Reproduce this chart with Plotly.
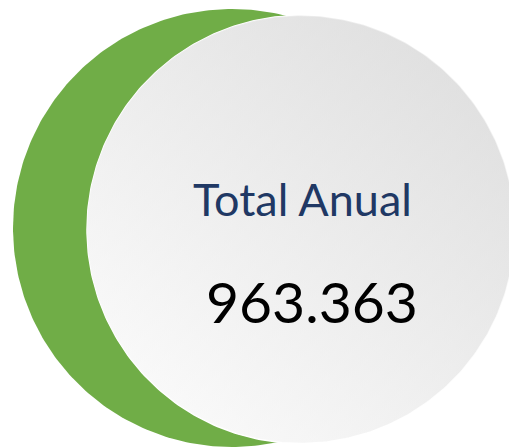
import numpy as np
import plotly.graph_objects as go

# data
label = "Total Anual"
total = 963363

# geometry of the two discs (pixel space, y down)
green_c, green_r = (232, 228), 219
disc_c, disc_r = (301, 229.5), 214

t = np.linspace(0, 2 * np.pi, 361)

def circle(c, r):
    return c[0] + r * np.cos(t), c[1] + r * np.sin(t)

fig = go.Figure()

gx, gy = circle(green_c, green_r)
fig.add_trace(go.Scatter(x=gx, y=gy, fill="toself", fillcolor="#70AD47",
                         mode="lines", line=dict(width=0), hoverinfo="skip"))

wx, wy = circle(disc_c, disc_r)
# horizontal part of the diagonal gradient
fig.add_trace(go.Scatter(x=wx, y=wy, fill="toself", mode="lines",
                         line=dict(color="white", width=1.5), hoverinfo="skip",
                         fillgradient=dict(type="horizontal",
                                           colorscale=[[0, "#fcfcfc"], [1, "#d9d9d9"]])))
# vertical overlay: lighter toward the bottom
fig.add_trace(go.Scatter(x=wx, y=wy, fill="toself", mode="lines",
                         line=dict(width=0), hoverinfo="skip",
                         fillgradient=dict(type="vertical",
                                           colorscale=[[0, "rgba(255,255,255,0.55)"],
                                                       [1, "rgba(222,222,222,0.55)"]])))

fig.add_annotation(x=302, y=199, text=label, showarrow=False,
                   font=dict(family="Lato", size=45, color="#203864"))
fig.add_annotation(x=312, y=301, text=f"{total:,}".replace(",", "."), showarrow=False,
                   font=dict(family="Lato", size=57, color="black"))

fig.update_layout(width=509, height=448, margin=dict(l=0, r=0, t=0, b=0),
                  paper_bgcolor="white", plot_bgcolor="white", showlegend=False,
                  xaxis=dict(range=[0, 509], visible=False, fixedrange=True),
                  yaxis=dict(range=[448, 0], visible=False, fixedrange=True))

fig.write_html("out.html", config={"displayModeBar": False},
               post_script="document.body.style.margin='0';document.body.style.overflow='hidden';")
